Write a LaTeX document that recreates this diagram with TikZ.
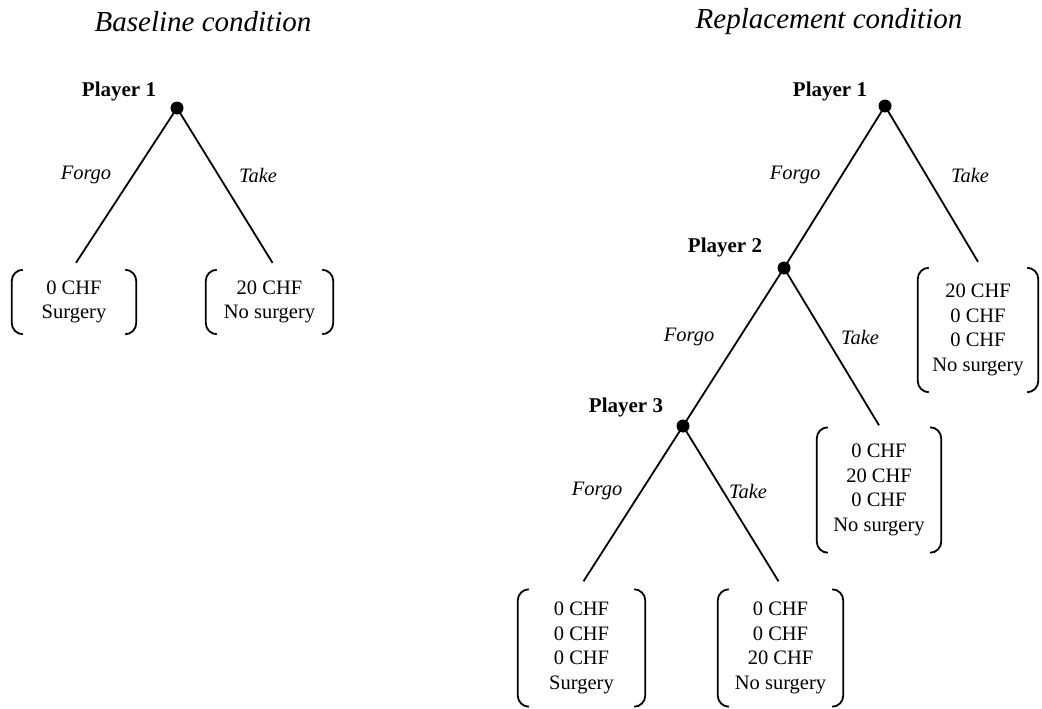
\documentclass[tikz,border=0pt]{standalone}
\usepackage{fontspec}
\setmainfont{Liberation Serif}
\begin{document}
\begin{tikzpicture}[x=1pt,y=-1pt,
  edge/.style={line width=1.8pt},
  dot/.style={circle,fill=black,inner sep=0pt,minimum size=13pt},
  player/.style={font=\fontsize{21}{22}\selectfont\bfseries},
  act/.style={font=\fontsize{20.5}{22}\selectfont\itshape},
  title/.style={font=\fontsize{29}{34}\selectfont\itshape},
  pay/.style={inner sep=0pt,align=center,font=\fontsize{20.5}{24.5}\selectfont},
  brkline/.style={line width=1.8pt,rounded corners=11pt}]
\useasboundingbox (0,0) rectangle (1042,709);
\newcommand\brk[1]{%
  \draw[brkline] ([xshift=11pt]#1.north west) -- (#1.north west) -- (#1.south west) -- ([xshift=11pt]#1.south west);
  \draw[brkline] ([xshift=-11pt]#1.north east) -- (#1.north east) -- (#1.south east) -- ([xshift=-11pt]#1.south east);}

% titles
\node[title] (t1) at (203,22) {Baseline condition};
\node[title] (t2) at (829,22) {Replacement condition};

% baseline tree
\node[dot] (a1) at (177,108) {};
\node[player] (a1l) at (119,91) {Player 1};
\node[pay,minimum width=124pt,minimum height=64pt] (la) at (74,302) {0 CHF\\Surgery};
\node[pay,minimum width=127pt,minimum height=64pt] (lb) at (269.5,302) {20 CHF\\No surgery};
\brk{la}\brk{lb}
\draw[edge] (a1.center) -- ([yshift=7pt,xshift=2pt]la.north);
\draw[edge] (a1.center) -- ([yshift=7pt,xshift=3pt]lb.north);
\node[act] (af) at (86,175) {Forgo};
\node[act] (at) at (258,175) {Take};

% replacement tree
\node[dot] (r1) at (885,106) {};
\node[player] (r1l) at (830,91) {Player 1};
\node[dot] (r2) at (784,268) {};
\node[player] (r2l) at (725,247) {Player 2};
\node[dot] (r3) at (683,426) {};
\node[player] (r3l) at (626,407) {Player 3};

\node[pay,minimum width=120pt,minimum height=124pt] (ra) at (978,330) {20 CHF\\0 CHF\\0 CHF\\No surgery};
\node[pay,minimum width=124pt,minimum height=125pt] (rb) at (879,490) {0 CHF\\20 CHF\\0 CHF\\No surgery};
\node[pay,minimum width=127pt,minimum height=117pt] (rc) at (581.5,648) {0 CHF\\0 CHF\\0 CHF\\Surgery};
\node[pay,minimum width=125pt,minimum height=117pt] (rd) at (780.5,648) {0 CHF\\0 CHF\\20 CHF\\No surgery};
\brk{ra}\brk{rb}\brk{rc}\brk{rd}

\draw[edge] (r1.center) -- (r2.center);
\draw[edge] (r1.center) -- ([yshift=6pt]ra.north);
\draw[edge] (r2.center) -- (r3.center);
\draw[edge] (r2.center) -- ([yshift=2pt]rb.north);
\draw[edge] (r3.center) -- ([xshift=2pt,yshift=8pt]rc.north);
\draw[edge] (r3.center) -- ([xshift=-2pt,yshift=8pt]rd.north);

\node[act] (rf1) at (795,175) {Forgo};
\node[act] (rt1) at (970,175) {Take};
\node[act] (rf2) at (689,337) {Forgo};
\node[act] (rt2) at (860,337) {Take};
\node[act] (rf3) at (597,491) {Forgo};
\node[act] (rt3) at (748,491) {Take};
\end{tikzpicture}
\end{document}
